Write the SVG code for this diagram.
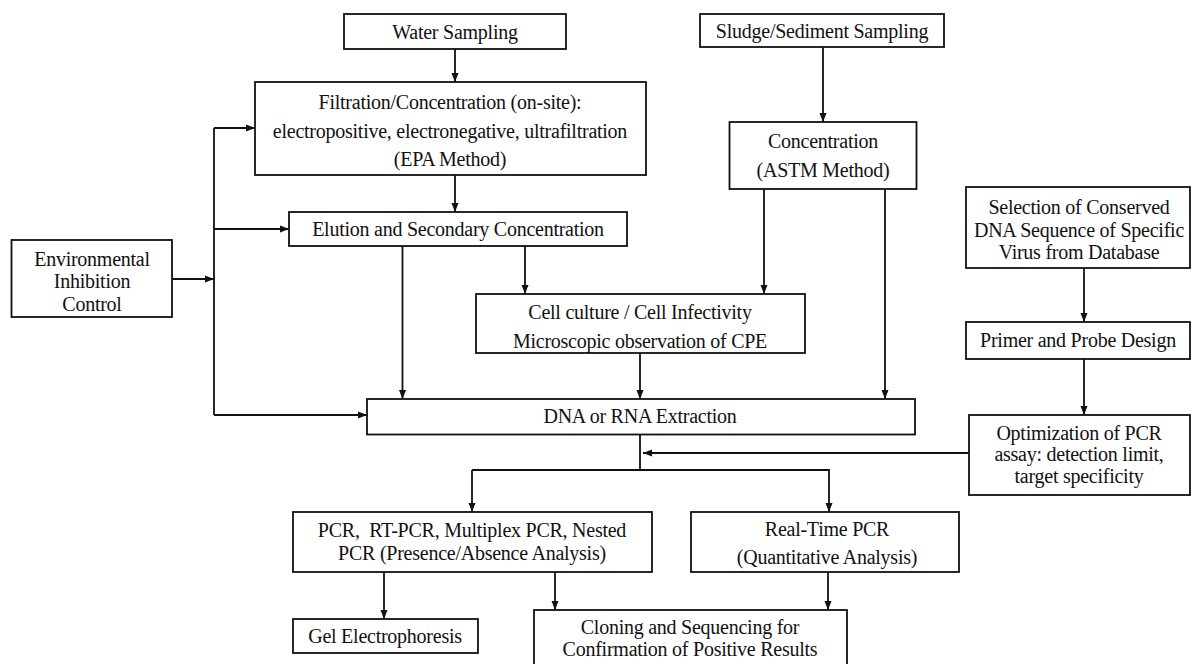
<svg xmlns="http://www.w3.org/2000/svg" width="1192" height="664" viewBox="0 0 1192 664">
<defs>
<marker id="ah" markerUnits="userSpaceOnUse" markerWidth="10" markerHeight="10" refX="9" refY="4" orient="auto">
<path d="M0,0.5 L9,4 L0,7.5 z" fill="#111"/>
</marker>
<style>
.box{fill:#fff;stroke:#111;stroke-width:1.8}
.t{font-family:"Liberation Serif","Times New Roman",serif;font-size:20px;letter-spacing:-0.25px;fill:#111;text-anchor:middle}
.c{fill:none;stroke:#111;stroke-width:1.8}
.a{fill:none;stroke:#111;stroke-width:1.8;marker-end:url(#ah)}
</style>
</defs>
<rect width="1192" height="664" fill="#fff"/>
<g id="connectors">
<path class="a" d="M455,49 V82"/>
<path class="a" d="M455,175 V212"/>
<path class="a" d="M823,47 V122"/>
<path class="c" d="M214,128 V415"/>
<path class="a" d="M214,128 H255"/>
<path class="a" d="M214,229 H289"/>
<path class="a" d="M214,415 H367"/>
<path class="a" d="M172,279 H214"/>
<path class="a" d="M402.5,246 V399"/>
<path class="a" d="M525,246 V294"/>
<path class="a" d="M764,189 V294"/>
<path class="a" d="M885,189 V399"/>
<path class="a" d="M640,353 V399"/>
<path class="a" d="M1084,268 V322"/>
<path class="a" d="M1084,359 V415"/>
<path class="a" d="M969,453 H643"/>
<path class="c" d="M640,434 V470 M472,470 H830"/>
<path class="a" d="M472,470 V512"/>
<path class="a" d="M829,470 V512"/>
<path class="a" d="M384,572 V619"/>
<path class="a" d="M555,572 V610"/>
<path class="a" d="M828,572 V610"/>
</g>
<g id="water-sampling">
<rect class="box" x="344" y="14" width="222" height="35"/>
<text class="t" x="455" y="39">Water Sampling</text>
</g>
<g id="sludge-sampling">
<rect class="box" x="700" y="14" width="244" height="33"/>
<text class="t" x="822" y="38">Sludge/Sediment Sampling</text>
</g>
<g id="filtration">
<rect class="box" x="255" y="82" width="391" height="93"/>
<text class="t" x="450" y="109">Filtration/Concentration (on-site):</text>
<text class="t" x="450" y="138">electropositive, electronegative, ultrafiltration</text>
<text class="t" x="450" y="166">(EPA Method)</text>
</g>
<g id="concentration">
<rect class="box" x="729.5" y="122" width="187" height="67"/>
<text class="t" x="823" y="148">Concentration</text>
<text class="t" x="823" y="177">(ASTM Method)</text>
</g>
<g id="elution">
<rect class="box" x="289" y="212" width="338" height="34"/>
<text class="t" x="458" y="236">Elution and Secondary Concentration</text>
</g>
<g id="environmental">
<rect class="box" x="11.5" y="240" width="160.5" height="77"/>
<text class="t" x="92" y="266">Environmental</text>
<text class="t" x="92" y="288">Inhibition</text>
<text class="t" x="92" y="311">Control</text>
</g>
<g id="selection">
<rect class="box" x="966" y="187" width="224" height="81"/>
<text class="t" x="1079" y="214">Selection of Conserved</text>
<text class="t" x="1079" y="237">DNA Sequence of Specific</text>
<text class="t" x="1079" y="259">Virus from Database</text>
</g>
<g id="cell-culture">
<rect class="box" x="476" y="294" width="329" height="59"/>
<text class="t" x="640" y="319">Cell culture / Cell Infectivity</text>
<text class="t" x="640" y="348">Microscopic observation of CPE</text>
</g>
<g id="primer">
<rect class="box" x="966" y="322" width="224" height="37"/>
<text class="t" x="1078" y="347">Primer and Probe Design</text>
</g>
<g id="extraction">
<rect class="box" x="367" y="399" width="548" height="35.5"/>
<text class="t" x="640" y="423">DNA or RNA Extraction</text>
</g>
<g id="optimization">
<rect class="box" x="969" y="415" width="221" height="80"/>
<text class="t" x="1079" y="440">Optimization of PCR</text>
<text class="t" x="1079" y="461">assay: detection limit,</text>
<text class="t" x="1079" y="483">target specificity</text>
</g>
<g id="pcr">
<rect class="box" x="293" y="512" width="359" height="60"/>
<text class="t" x="472" y="537" xml:space="preserve">PCR,  RT-PCR, Multiplex PCR, Nested</text>
<text class="t" x="472" y="560">PCR (Presence/Absence Analysis)</text>
</g>
<g id="real-time">
<rect class="box" x="691" y="512" width="268" height="60"/>
<text class="t" x="827" y="536">Real-Time PCR</text>
<text class="t" x="827" y="564">(Quantitative Analysis)</text>
</g>
<g id="gel">
<rect class="box" x="293" y="619" width="185" height="34"/>
<text class="t" x="385" y="643">Gel Electrophoresis</text>
</g>
<g id="cloning">
<rect class="box" x="534" y="610" width="313" height="60"/>
<text class="t" x="690" y="634">Cloning and Sequencing for</text>
<text class="t" x="690" y="656">Confirmation of Positive Results</text>
</g>
</svg>
